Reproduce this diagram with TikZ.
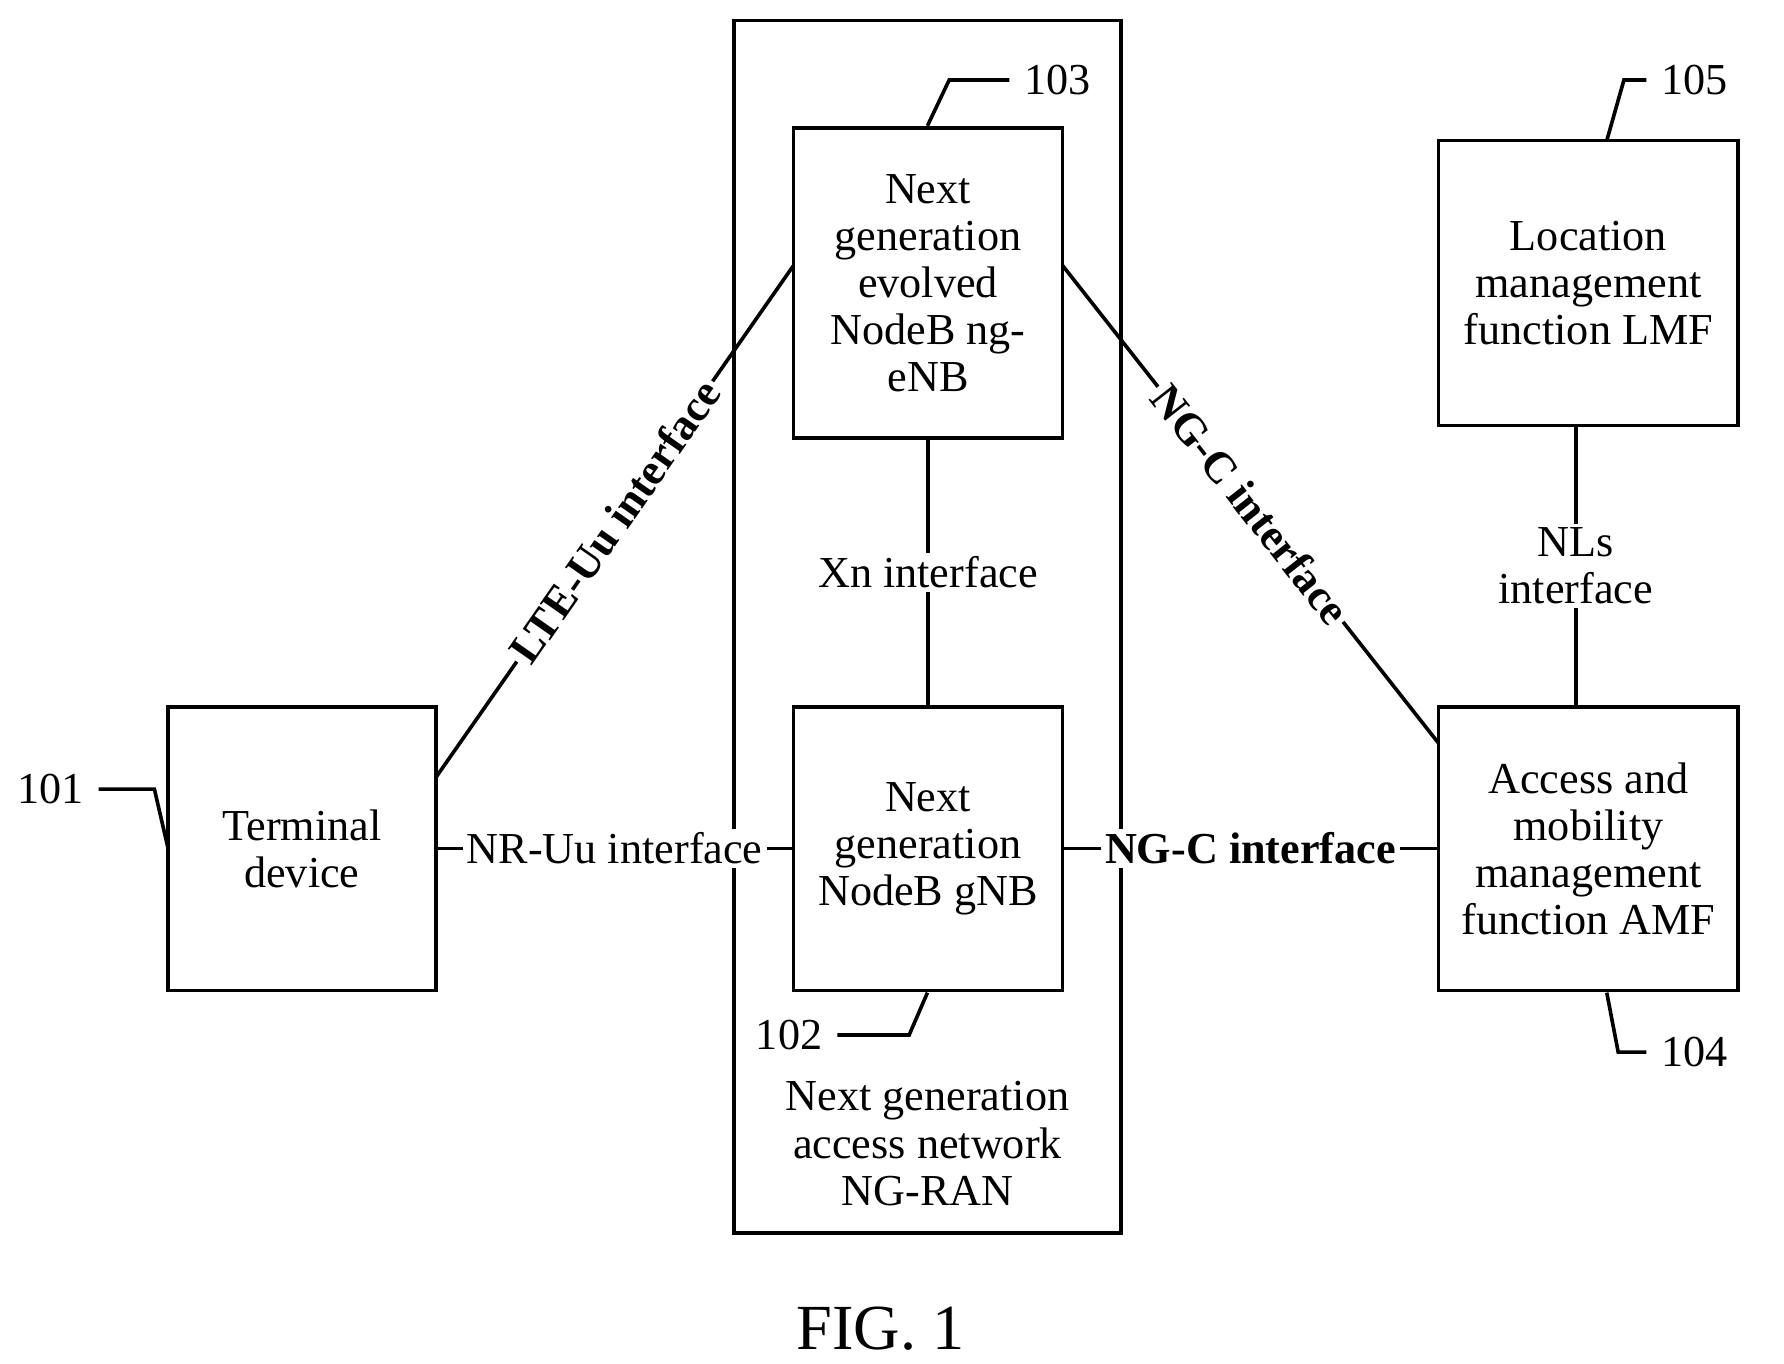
\documentclass[tikz,border=0pt]{standalone}
\usepackage{fontspec}
\setmainfont{Liberation Serif}
\begin{document}
\begin{tikzpicture}[x=0.1mm,y=-0.1mm,line width=0.9pt,
  box/.style={draw,align=center,font=\fontsize{11}{11.7}\selectfont},
  lab/.style={fill=white,inner sep=1pt,font=\fontsize{11}{11.7}\selectfont},
  num/.style={font=\fontsize{11}{12}\selectfont}]
\useasboundingbox (0,0) rectangle (1560,1192);
\draw (642,18) rectangle (980,1078);
\node[box,minimum width=235*0.1mm,minimum height=271*0.1mm] (enb) at (811.5,247.5) {Next\\generation\\evolved\\NodeB ng-\\eNB};
\node[box,minimum width=235*0.1mm,minimum height=248*0.1mm] (gnb) at (811.5,742) {Next\\generation\\NodeB gNB};
\node[box,minimum width=234*0.1mm,minimum height=248*0.1mm] (ue) at (264,742) {Terminal\\device};
\node[box,minimum width=262*0.1mm,minimum height=249*0.1mm] (lmf) at (1389,247.5) {Location\\management\\function LMF};
\node[box,minimum width=262*0.1mm,minimum height=248*0.1mm] (amf) at (1389,742) {Access and\\mobility\\management\\function AMF};
\node[lab,align=center,fill=none] (ran) at (811,1000) {Next generation\\access network\\NG-RAN};
\coordinate (ueT) at (381,680); \coordinate (enbL) at (694,232);
\coordinate (enbR) at (929,232); \coordinate (amfL) at (1258,650);
\draw (ueT) -- node[lab,sloped,font=\fontsize{11}{12}\selectfont\bfseries] {LTE-Uu interface} (enbL);
\draw (enbR) -- node[lab,sloped,font=\fontsize{11}{12}\selectfont\bfseries] {NG-C interface} (amfL);
\draw (ue.east) -- node[lab] {NR-Uu interface} (gnb.west);
\draw (gnb.east) -- node[lab,font=\fontsize{11}{12}\selectfont\bfseries] {NG-C interface} (amf.west);
\draw (enb.south) -- node[lab,pos=0.5] {Xn interface} (gnb.north);
\draw (1378,372) coordinate (n1) -- node[lab,align=center] {NLs\\interface} (1378,618) coordinate (n2);
\node[num] (l103) at (925,70) {103};
\node[num] (l105) at (1482,70) {105};
\node[num] (l101) at (44,690) {101};
\node[num] (l102) at (690,905) {102};
\node[num] (l104) at (1482,920) {104};
\draw (811,110) -- (830,70) -- (l103.west);
\draw (1405,123) -- (1420,70) -- (l105.west);
\draw (l101.east) -- (135,690) -- (147,742);
\draw (l102.east) -- (795,905) -- (811,868);
\draw (1405,868) -- (1415,920) -- (l104.west);
\node[font=\fontsize{16}{18}\selectfont] (fig) at (770,1162) {FIG. 1};
\end{tikzpicture}
\end{document}
